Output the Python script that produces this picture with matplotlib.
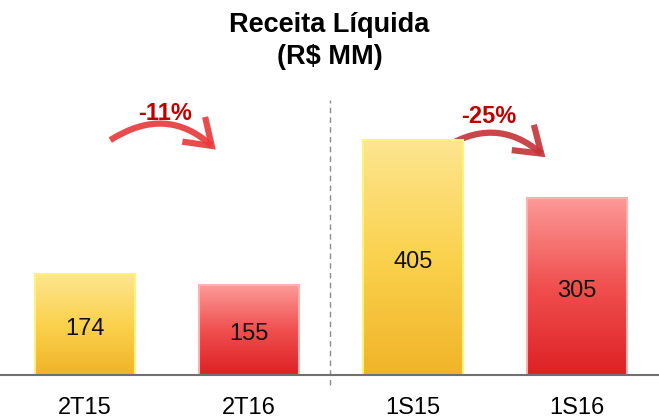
import numpy as np
import matplotlib.pyplot as plt
from matplotlib.colors import LinearSegmentedColormap
from matplotlib.patches import FancyArrowPatch

plt.rcParams['font.family'] = ['Liberation Sans', 'DejaVu Sans']

# dados
periodos = ['2T15', '2T16', '1S15', '1S16']
receita = [174, 155, 405, 305]
variacao = ['-11%', '-25%']

amarelo = LinearSegmentedColormap.from_list('am', ['#F0B428', '#FBD24E', '#FDE690'])
vermelho = LinearSegmentedColormap.from_list('vm', ['#DE2024', '#F0504F', '#FC9A98'])
cores = [amarelo, vermelho, amarelo, vermelho]
bordas = ['#FFF27A', '#FFB0B0', '#FFF27A', '#FFB0B0']

fig = plt.figure(figsize=(6.59, 4.2), dpi=100)
ax = fig.add_axes([0, 45 / 420, 1, 375 / 420])
x = np.arange(len(periodos))
largura = 0.61

grad = np.linspace(0, 1, 256).reshape(-1, 1)
for xi, v, cm, bc in zip(x, receita, cores, bordas):
    barra = ax.bar(xi, v, width=largura, color='none', edgecolor=bc, linewidth=1.5, zorder=3)[0]
    img = ax.imshow(grad, cmap=cm, aspect='auto', origin='lower',
                    extent=(xi - largura / 2, xi + largura / 2, 0, v), zorder=2)
    img.set_clip_path(barra)
    ax.text(xi, v / 2 - 7, str(v), ha='center', va='center', fontsize=17, color='#111111', zorder=4)

ax.set_xlim(-0.518, 3.5)
ax.set_ylim(0, 646)
ax.axhline(0, color='#707070', lw=1.5, zorder=5, clip_on=False)
ax.plot([1.494, 1.494], [-18, 474], color='#8C8C8C', lw=1, ls=(0, (4, 3)), clip_on=False)

ax.set_xticks(x)
ax.set_xticklabels(periodos, fontsize=17)
ax.tick_params(length=0, pad=16)
for s in ax.spines.values():
    s.set_visible(False)
ax.set_yticks([])

# setas de variacao
setas = [((0.14, 402), (0.81, 385), (0.49, 450), '#E8383B'),
         ((2.15, 384), (2.82, 372), (2.46, 445), '#C43236')]
for (ini, fim, pos_txt, cor), txt in zip(setas, variacao):
    seta = FancyArrowPatch(ini, fim, connectionstyle='arc3,rad=-0.4',
                           arrowstyle='->,head_length=0.8,head_width=0.55',
                           mutation_scale=22, color=cor, lw=4.5, alpha=0.9,
                           capstyle='butt', joinstyle='miter')
    ax.add_patch(seta)
    ax.text(pos_txt[0], pos_txt[1], txt, ha='center', va='center', fontsize=17,
            fontweight='bold', color='#C00000')

fig.text(0.5, 1 - 25 / 420, 'Receita Líquida', ha='center', va='center', fontsize=19.5, fontweight='bold')
fig.text(0.5, 1 - 57 / 420, '(R$ MM)', ha='center', va='center', fontsize=19.5, fontweight='bold')

fig.savefig('out.png', dpi=100)
